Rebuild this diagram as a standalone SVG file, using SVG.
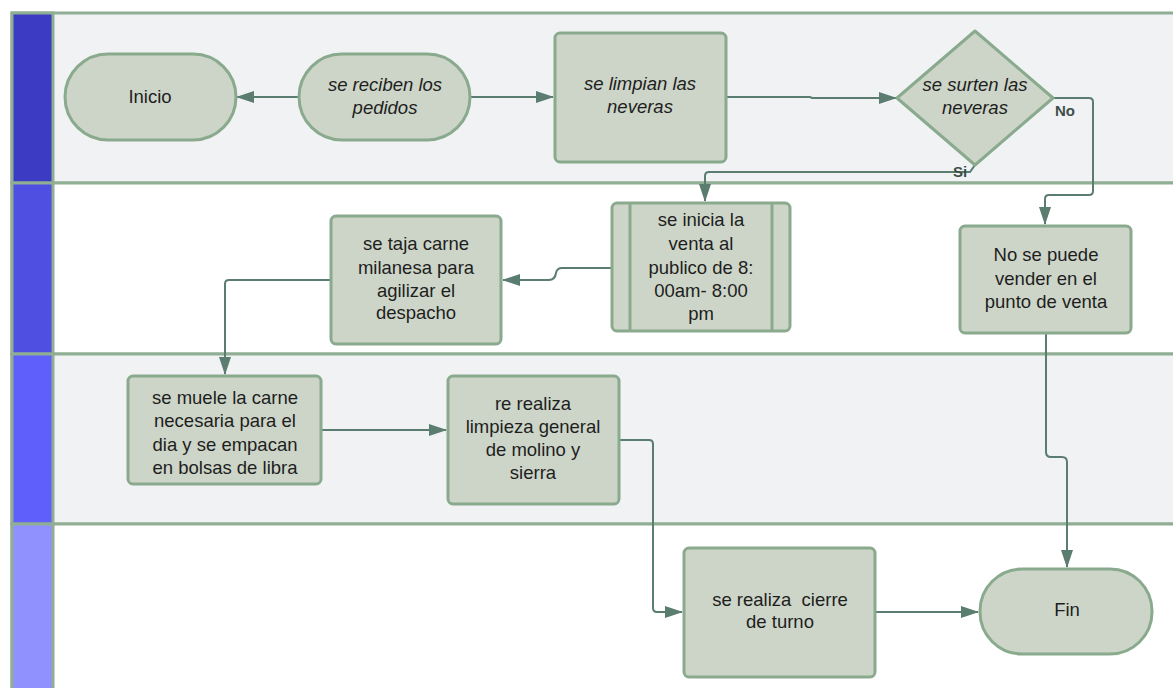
<svg xmlns="http://www.w3.org/2000/svg" width="1173" height="688" viewBox="0 0 1173 688">
  <defs>
    <marker id="arrow" markerWidth="18" markerHeight="12" refX="17" refY="6" orient="auto" markerUnits="userSpaceOnUse">
      <path d="M0,0 L18,6 L0,12 Z" fill="#5a7d6f"/>
    </marker>
    <style>
      .lane { stroke: #8fae93; stroke-width: 3; }
      .node { fill: #cdd5c8; stroke: #8aaa8e; stroke-width: 3; }
      .edge { fill: none; stroke: #5a7d6f; stroke-width: 2; marker-end: url(#arrow); }
      .t { font-family: "Liberation Sans", Arial, sans-serif; font-size: 18.5px; fill: #1e1e1e; text-anchor: middle; }
      .i { font-style: italic; }
      .lbl { font-family: "Liberation Sans", Arial, sans-serif; font-size: 15px; font-weight: bold; fill: #3d4f47; }
    </style>
  </defs>

  <rect width="1173" height="688" fill="#ffffff"/>

  <!-- swimlanes -->
  <g id="lanes">
    <rect class="lane" x="12" y="13" width="1170" height="170" fill="#f1f2f4"/>
    <rect class="lane" x="12" y="183" width="1170" height="171" fill="#ffffff"/>
    <rect class="lane" x="12" y="354" width="1170" height="170" fill="#f1f2f4"/>
    <rect class="lane" x="12" y="524" width="1170" height="180" fill="#ffffff"/>
    <rect class="lane" x="12" y="13" width="41" height="170" fill="#3b3bc4"/>
    <rect class="lane" x="12" y="183" width="41" height="171" fill="#4f4fe2"/>
    <rect class="lane" x="12" y="354" width="41" height="170" fill="#5f5ffc"/>
    <rect class="lane" x="12" y="524" width="41" height="180" fill="#9090ff"/>
  </g>

  <!-- connectors -->
  <g id="connectors">
    <path class="edge" d="M298,97 L237,97"/>
    <path class="edge" d="M470,97 L553,97"/>
    <path class="edge" d="M726,97 L810,97 L812,98 L896,98"/>
    <path class="edge" d="M1053,98 L1089,98 Q1093,98 1093,102 L1093,191 Q1093,195 1089,195 L1049,195 Q1045,195 1045,199 L1045,224"/>
    <path class="edge" d="M975,165 L970,172 L709,172 Q705,172 705,176 L705,201"/>
    <path class="edge" d="M612,268 L562,268 Q557,268 556,273 Q555,280 549,280 L503,280"/>
    <path class="edge" d="M331,280 L229,280 Q225,280 225,284 L225,374"/>
    <path class="edge" d="M321,430 L446,430"/>
    <path class="edge" d="M619,440 L649,440 Q653,440 653,444 L653,608 Q653,612 657,612 L682,612"/>
    <path class="edge" d="M1046,333 L1046,452 Q1046,457 1051,457 L1062,457 Q1067,457 1067,462 L1067,567"/>
    <path class="edge" d="M875,612 L978,612"/>
  </g>

  <g id="inicio">
    <rect class="node" x="65" y="54" width="171" height="86" rx="43"/>
    <text class="t" x="150" y="103">Inicio</text>
  </g>

  <g id="recepcion">
    <rect class="node" x="299" y="54" width="171" height="86" rx="43"/>
    <text class="t i" x="385" y="91">se reciben los</text>
    <text class="t i" x="385" y="114">pedidos</text>
  </g>

  <g id="limpieza-neveras">
    <rect class="node" x="555" y="33" width="171" height="129" rx="5"/>
    <text class="t i" x="640" y="90">se limpian las</text>
    <text class="t i" x="640" y="113">neveras</text>
  </g>

  <g id="decision-surtido">
    <path class="node" d="M975,31 L1053,98 L975,165 L897,98 Z" stroke-linejoin="round"/>
    <text class="t i" x="975" y="91">se surten las</text>
    <text class="t i" x="975" y="114">neveras</text>
    <text class="lbl" x="1055" y="116">No</text>
    <text class="lbl" x="953" y="177">Si</text>
  </g>

  <g id="inicio-venta">
    <rect class="node" x="612" y="203" width="178" height="128" rx="5"/>
    <line class="node" x1="630" y1="204" x2="630" y2="330"/>
    <line class="node" x1="772" y1="204" x2="772" y2="330"/>
    <text class="t" x="701" y="226">se inicia la</text>
    <text class="t" x="701" y="250">venta al</text>
    <text class="t" x="701" y="274">publico de 8:</text>
    <text class="t" x="701" y="297">00am- 8:00</text>
    <text class="t" x="701" y="320">pm</text>
  </g>

  <g id="carne-milanesa">
    <rect class="node" x="331" y="216" width="170" height="128" rx="5"/>
    <text class="t" x="416" y="250">se taja carne</text>
    <text class="t" x="416" y="274">milanesa para</text>
    <text class="t" x="416" y="297">agilizar el</text>
    <text class="t" x="416" y="319">despacho</text>
  </g>

  <g id="sin-venta">
    <rect class="node" x="960" y="226" width="171" height="107" rx="5"/>
    <text class="t" x="1046" y="261">No se puede</text>
    <text class="t" x="1046" y="285">vender en el</text>
    <text class="t" x="1046" y="308">punto de venta</text>
  </g>

  <g id="molienda">
    <rect class="node" x="128" y="376" width="193" height="108" rx="5"/>
    <text class="t" x="225" y="404">se muele la carne</text>
    <text class="t" x="225" y="427">necesaria para el</text>
    <text class="t" x="225" y="451">dia y se empacan</text>
    <text class="t" x="225" y="474">en bolsas de libra</text>
  </g>

  <g id="limpieza-molino">
    <rect class="node" x="448" y="376" width="171" height="128" rx="5"/>
    <text class="t" x="533" y="410">re realiza</text>
    <text class="t" x="533" y="433">limpieza general</text>
    <text class="t" x="533" y="456">de molino y</text>
    <text class="t" x="533" y="479">sierra</text>
  </g>

  <g id="cierre-turno">
    <rect class="node" x="684" y="548" width="191" height="129" rx="5"/>
    <text class="t" x="780" y="606" xml:space="preserve">se realiza  cierre</text>
    <text class="t" x="780" y="628">de turno</text>
  </g>

  <g id="fin">
    <rect class="node" x="980" y="569" width="172" height="85" rx="42"/>
    <text class="t" x="1067" y="616">Fin</text>
  </g>
</svg>
